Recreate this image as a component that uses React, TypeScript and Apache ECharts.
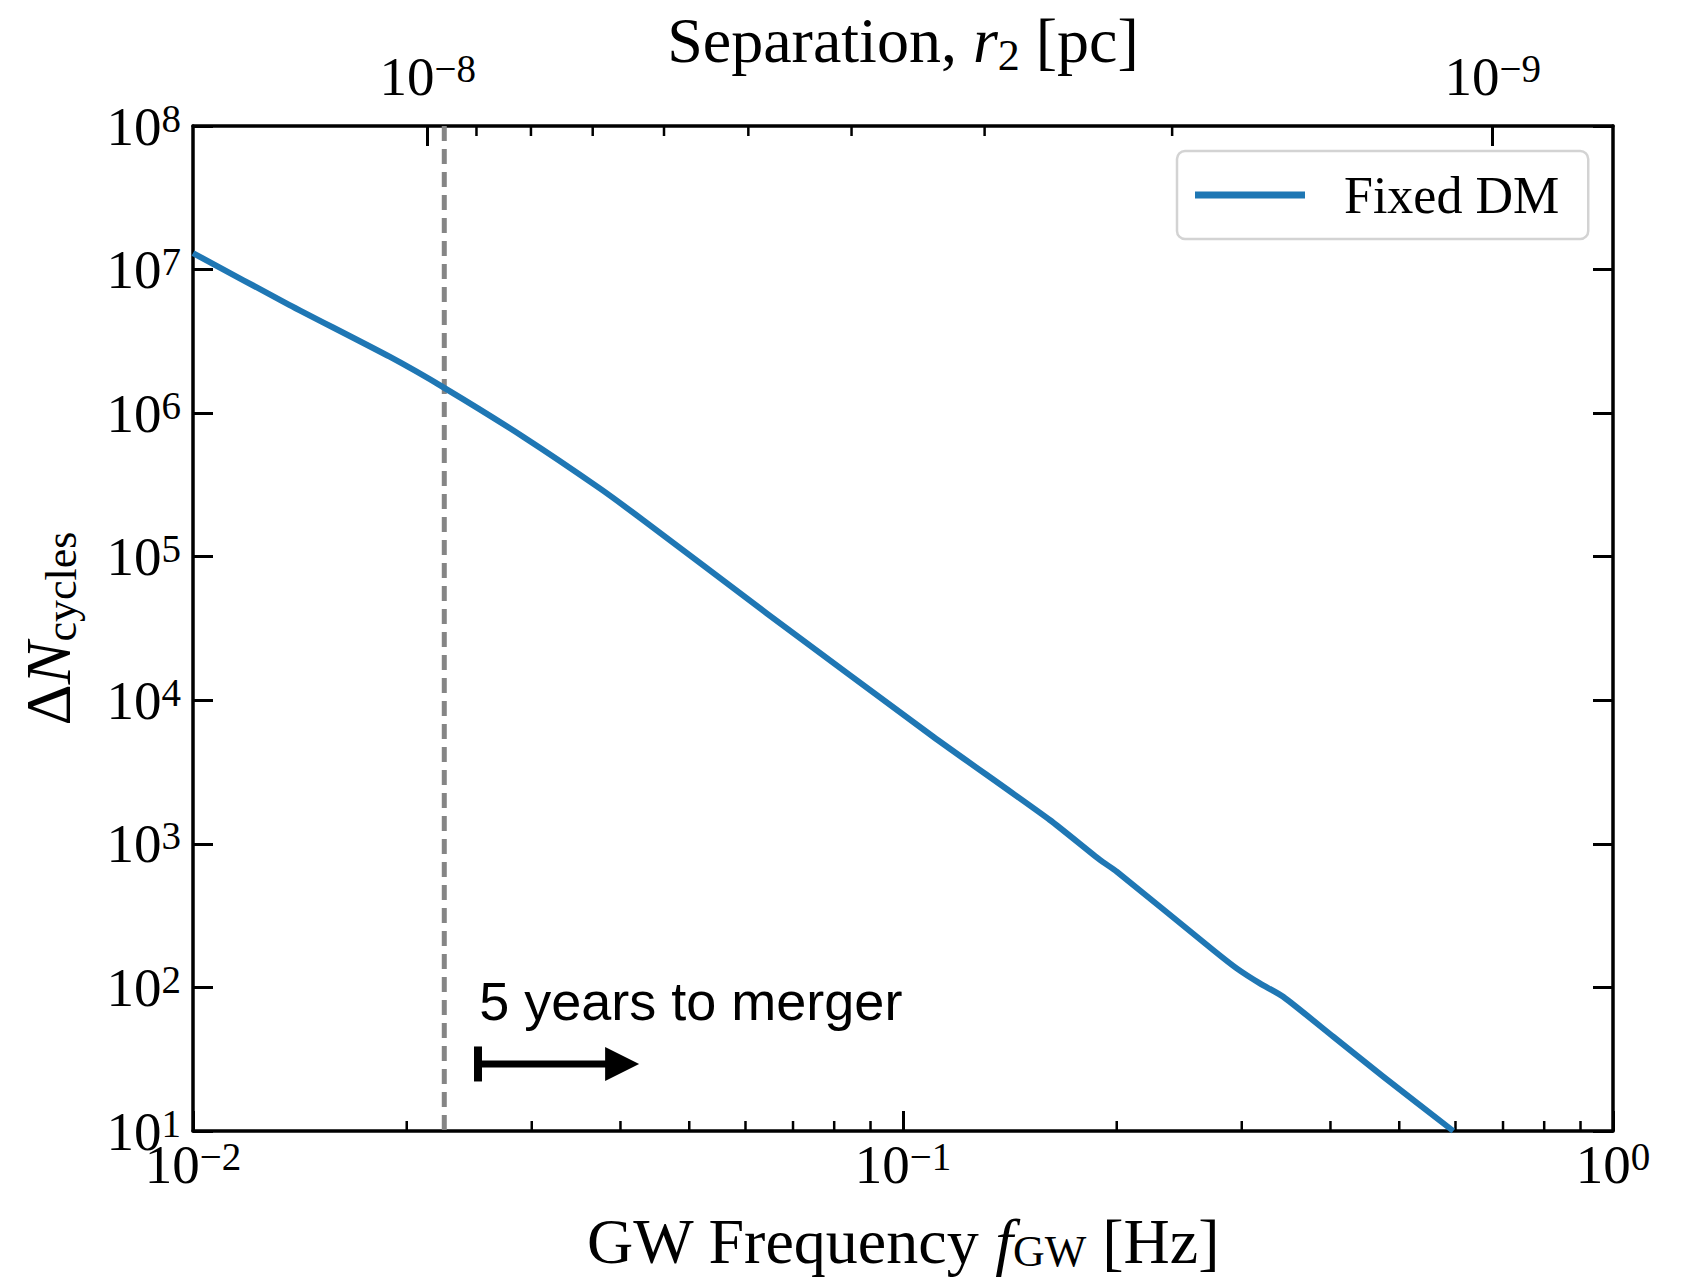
import React, { useEffect, useRef } from "react";
import * as echarts from "echarts";

// Dephasing cycles accumulated vs. gravitational-wave frequency (fixed dark-matter halo)
const FREQ_HZ = [
  0.01, 0.01368, 0.01892, 0.02265, 0.02917, 0.03741, 0.04305, 0.06427, 0.1103,
  0.161, 0.1894, 0.2, 0.2734, 0.2951, 0.3182, 0.3432, 0.4036, 0.4747, 0.5957,
];
const DELTA_N_CYCLES = [
  1.303e7, 5.662e6, 2.472e6, 1.489e6, 6.855e5, 2.992e5, 1.799e5, 4.036e4, 5572,
  1466, 772.7, 641.2, 182.4, 135.8, 106.7, 86.1, 45.4, 23.9, 10.0,
];
const SERIES_NAME = "Fixed DM";

// Axis ranges
const FREQ_MIN = 0.01;
const FREQ_MAX = 1;
const CYCLES_MIN = 10;
const CYCLES_MAX = 1e8;

// Minor ticks of the log axes
const FREQ_MINOR_TICKS = [
  0.02, 0.03, 0.04, 0.05, 0.06, 0.07, 0.08, 0.09,
  0.2, 0.3, 0.4, 0.5, 0.6, 0.7, 0.8, 0.9,
];
const SEP_MINOR_TICKS = [2e-9, 3e-9, 4e-9, 5e-9, 6e-9, 7e-9, 8e-9, 9e-9];

// Separation of the binary for a given GW frequency: r2 ∝ f^(-2/3)
const SEP_REF_PC = 1e-8;
const FREQ_AT_SEP_REF = 0.02141;
const sepAt = (f: number) => SEP_REF_PC * Math.pow(f / FREQ_AT_SEP_REF, -2 / 3);

// Frequency five years before merger, and the annotation around it
const FIVE_YEAR_FREQ = 0.02259;
const ARROW_FREQ_START = 0.0252;
const ARROW_FREQ_END = 0.0425;
const ARROW_CYCLES = 29.3;
const NOTE_FREQ = 0.0253;
const NOTE_CYCLES = 80;
const NOTE_TEXT = "5 years to merger";

const SERIF = '"Liberation Serif", "Times New Roman", serif';
const SANS = '"Liberation Sans", Arial, Helvetica, sans-serif';
const BLUE = "#1f77b4";

const tickRich = {
  b: { fontFamily: SERIF, fontSize: 55, lineHeight: 55, padding: [10, 0, 0, 0], verticalAlign: "bottom", color: "#000" },
  s: { fontFamily: SERIF, fontSize: 39, lineHeight: 39, verticalAlign: "top", color: "#000" },
};

const powerLabel = (v: number) => {
  const e = Math.round(Math.log10(v));
  return `{b|10}{s|${e < 0 ? "\u2212" + -e : e}}`;
};

const nameRich = (subPad: number) => ({
  t: { fontFamily: SERIF, fontSize: 64, lineHeight: 64, verticalAlign: "top", color: "#000" },
  i: { fontFamily: SERIF, fontSize: 64, lineHeight: 64, verticalAlign: "top", fontStyle: "italic", color: "#000" },
  sub: { fontFamily: SERIF, fontSize: 44, lineHeight: 44, padding: [subPad, 0, 0, 0], verticalAlign: "top", color: "#000" },
});

const axisLine = { show: true, onZero: false, lineStyle: { color: "#000", width: 3.5 } };
const majorTick = { show: true, inside: true, length: 20, lineStyle: { color: "#000", width: 3 } };

const minorTickItem = (len: number, down: boolean) => (params: any, api: any) => {
  const p = api.coord([api.value(0), api.value(1)]);
  return {
    type: "line",
    shape: { x1: p[0], y1: p[1], x2: p[0], y2: down ? p[1] + len : p[1] - len },
    style: { stroke: "#000", lineWidth: 2.5 },
  };
};

export default function App() {
  const ref = useRef<HTMLDivElement>(null);

  useEffect(() => {
    document.body.style.margin = "0";
    const chart = echarts.init(ref.current!, undefined, { renderer: "svg" });

    const option: any = {
      animation: false,
      backgroundColor: "#fff",
      grid: { left: 193, right: 71, top: 126, bottom: 146, containLabel: false, outerBoundsMode: "none" },
      legend: {
        data: [{ name: SERIES_NAME, icon: "rect" }],
        left: 1177,
        top: 151,
        orient: "vertical",
        padding: [18, 29, 18, 18],
        itemWidth: 110,
        itemHeight: 7,
        backgroundColor: "rgba(255,255,255,0.8)",
        borderColor: "#d3d3d3",
        borderWidth: 2.5,
        borderRadius: 8,
        itemStyle: { color: BLUE, borderWidth: 0 },
        textStyle: { fontFamily: SERIF, fontSize: 52, lineHeight: 52, color: "#000", padding: [0, 0, 0, 34] },
      },
      xAxis: [
        {
          type: "log",
          logBase: 10,
          min: FREQ_MIN,
          max: FREQ_MAX,
          position: "bottom",
          axisLine,
          axisTick: majorTick,
          splitLine: { show: false },
          axisLabel: { margin: 6, formatter: powerLabel, rich: tickRich },
          name: "{t|GW Frequency }{i|f}{sub|GW}{t| [Hz]}",
          nameLocation: "middle",
          nameGap: 78,
          nameMoveOverlap: false,
          nameTextStyle: { rich: nameRich(20) },
        },
        {
          type: "log",
          logBase: 10,
          min: sepAt(FREQ_MAX),
          max: sepAt(FREQ_MIN),
          inverse: true,
          position: "top",
          axisLine,
          axisTick: majorTick,
          splitLine: { show: false },
          axisLabel: {
            margin: 22,
            showMinLabel: false,
            showMaxLabel: false,
            formatter: powerLabel,
            rich: tickRich,
          },
          name: "{t|Separation, }{i|r}{sub|2}{t| [pc]}",
          nameLocation: "middle",
          nameGap: 54,
          nameMoveOverlap: false,
          nameTextStyle: { rich: nameRich(25) },
        },
      ],
      yAxis: [
        {
          type: "log",
          logBase: 10,
          min: CYCLES_MIN,
          max: CYCLES_MAX,
          position: "left",
          axisLine,
          axisTick: majorTick,
          splitLine: { show: false },
          axisLabel: { margin: 12, formatter: powerLabel, rich: tickRich },
          name: "{t|\u0394}{i|N}{sub|cycles}",
          nameLocation: "middle",
          nameGap: 113,
          nameMoveOverlap: false,
          nameTextStyle: { rich: nameRich(23) },
        },
        {
          type: "log",
          logBase: 10,
          min: CYCLES_MIN,
          max: CYCLES_MAX,
          position: "right",
          axisLine,
          axisTick: majorTick,
          splitLine: { show: false },
          axisLabel: { show: false },
        },
      ],
      series: [
        {
          // vertical dashed marker: five years before merger
          type: "custom",
          xAxisIndex: 0,
          yAxisIndex: 0,
          silent: true,
          z: 1,
          data: [[FIVE_YEAR_FREQ, CYCLES_MIN, CYCLES_MAX]],
          encode: { x: 0, y: [1, 2] },
          renderItem: (params: any, api: any) => {
            const lo = api.coord([api.value(0), api.value(1)]);
            const hi = api.coord([api.value(0), api.value(2)]);
            return {
              type: "line",
              shape: { x1: lo[0], y1: hi[1], x2: lo[0], y2: lo[1] },
              style: { stroke: "#858585", lineWidth: 5, lineDash: [15, 8] },
            };
          },
        },
        {
          name: SERIES_NAME,
          type: "line",
          xAxisIndex: 0,
          yAxisIndex: 0,
          data: FREQ_HZ.map((f, i) => [f, DELTA_N_CYCLES[i]]),
          symbol: "none",
          showSymbol: false,
          smooth: 0.2,
          clip: true,
          z: 3,
          lineStyle: { color: BLUE, width: 6, cap: "butt", join: "round" },
          itemStyle: { color: BLUE },
        },
        {
          type: "custom",
          xAxisIndex: 0,
          yAxisIndex: 0,
          silent: true,
          data: FREQ_MINOR_TICKS.map((f) => [f, CYCLES_MIN]),
          encode: { x: 0, y: 1 },
          renderItem: minorTickItem(10, false),
        },
        {
          type: "custom",
          xAxisIndex: 1,
          yAxisIndex: 0,
          silent: true,
          data: SEP_MINOR_TICKS.map((r) => [r, CYCLES_MAX]),
          encode: { x: 0, y: 1 },
          renderItem: minorTickItem(10, true),
        },
        {
          type: "custom",
          xAxisIndex: 0,
          yAxisIndex: 0,
          silent: true,
          data: [[ARROW_FREQ_START, ARROW_FREQ_END, ARROW_CYCLES, NOTE_FREQ, NOTE_CYCLES]],
          encode: { x: [0, 1, 3], y: [2, 4] },
          renderItem: (params: any, api: any) => {
            const a = api.coord([api.value(0), api.value(2)]);
            const b = api.coord([api.value(1), api.value(2)]);
            const t = api.coord([api.value(3), api.value(4)]);
            const headLen = 34;
            const headHalf = 17;
            return {
              type: "group",
              children: [
                { type: "rect", shape: { x: a[0] - 4, y: a[1] - 17.5, width: 8, height: 35 }, style: { fill: "#000" } },
                {
                  type: "rect",
                  shape: { x: a[0], y: a[1] - 3.5, width: b[0] - headLen - a[0] + 1, height: 7 },
                  style: { fill: "#000" },
                },
                {
                  type: "polygon",
                  shape: { points: [[b[0] - headLen, a[1] - headHalf], [b[0], a[1]], [b[0] - headLen, a[1] + headHalf]] },
                  style: { fill: "#000" },
                },
                {
                  type: "text",
                  x: t[0],
                  y: t[1],
                  style: {
                    text: NOTE_TEXT,
                    fontFamily: SANS,
                    fontSize: 54,
                    fill: "#000",
                    align: "left",
                    verticalAlign: "middle",
                  },
                },
              ],
            };
          },
        },
      ],
    };

    chart.setOption(option);
    return () => chart.dispose();
  }, []);

  return (
    <div
      ref={ref}
      style={{ position: "absolute", left: 0, top: 0, width: 1684, height: 1277, background: "#fff" }}
    />
  );
}
